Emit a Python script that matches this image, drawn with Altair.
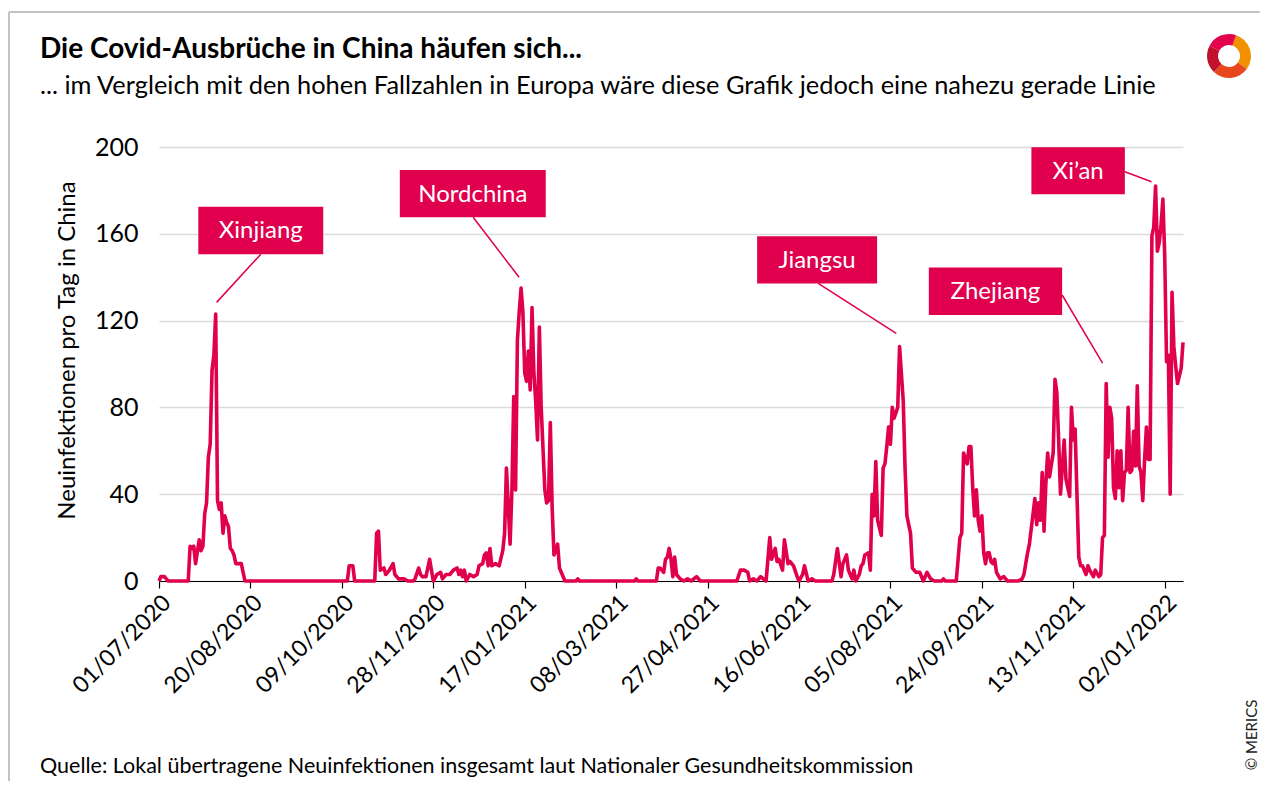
import altair as alt
import pandas as pd

# ---------------- data ----------------
START = "2020-07-01"
DAYS_SINCE_START = [
    0, 1, 2, 3, 4, 5, 16, 17, 18, 19, 20, 22, 23, 24, 25, 26, 27, 28, 29, 30, 31, 32, 33, 34, 35, 36, 37, 38, 39, 40,
    41, 42, 45, 47, 103, 104, 106, 107, 118, 119, 120, 121, 123, 124, 126, 128, 129, 131, 134, 136, 139, 140, 142, 143,
    144, 146, 148, 150, 152, 154, 155, 157, 159, 161, 163, 164, 165, 166, 167, 168, 170, 172, 174, 175, 177, 178,
    179, 180, 181, 182, 184, 186, 188, 189, 190, 192, 193, 194, 195, 196, 197, 198, 199, 200, 201, 202, 203, 204,
    205, 206, 207, 208, 209, 211, 212, 213, 214, 215, 216, 218, 219, 222, 228, 229, 230, 260, 261, 262, 272, 273, 274, 276,
    277, 278, 279, 280, 281, 282, 283, 285, 287, 289, 291, 294, 296, 316, 318, 320, 322, 323, 325, 327, 329, 332,
    334, 335, 337, 338, 339, 341, 342, 344, 345, 347, 349, 350, 352, 353, 355, 357, 359, 368, 369, 371, 373, 374,
    376, 377, 379, 380, 381, 383, 384, 385, 386, 388, 389, 390, 391, 392, 393, 395, 396, 397, 398, 399, 400, 401,
    402, 404, 405, 407, 408, 409, 411, 412, 414, 416, 418, 420, 422, 424, 428, 429, 430, 436, 438, 439, 440, 442, 443,
    444, 445, 446, 447, 448, 449, 450, 451, 452, 453, 454, 455, 456, 457, 458, 460, 462, 464, 470, 472, 473, 475,
    476, 478, 479, 480, 481, 482, 483, 484, 485, 486, 487, 489, 490, 491, 492, 493, 495, 496, 498, 499, 500, 501,
    503, 504, 505, 507, 508, 509, 511, 512, 514, 515, 516, 517, 518, 519, 520, 521, 522, 523, 524, 525, 526, 527,
    528, 529, 530, 531, 532, 533, 534, 535, 536, 537, 538, 539, 540, 541, 542, 543, 544, 545, 546, 547, 548, 549,
    550, 551, 552, 553, 554, 555, 556, 557, 559, 560,
]
NEW_CASES = [
    0, 2, 2, 2, 1, 0, 0, 16, 15, 16, 8, 19, 14, 16, 31, 36, 57, 63, 97, 104, 123, 37, 33, 36, 22, 30, 27, 25, 15, 14,
    12, 8, 8, 0, 0, 7, 7, 0, 0, 22, 23, 5, 6, 3, 5, 8, 3, 1, 1, 0, 0, 1, 6, 3,
    2, 2, 10, 0, 3, 4, 1, 3, 3, 5, 6, 3, 5, 2, 5, 0, 3, 2, 3, 7, 8, 12,
    13, 7, 15, 7, 8, 7, 14, 22, 52, 17, 42, 85, 42, 111, 124, 135, 124, 96, 92, 106, 88, 126,
    96, 83, 65, 117, 80, 42, 36, 37, 73, 34, 12, 17, 6, 0, 0, 1, 0, 0, 1, 0, 0, 6, 6, 4,
    10, 11, 15, 10, 2, 11, 3, 1, 0, 1, 0, 2, 0, 0, 5, 5, 4, 0, 1, 0, 2, 0,
    20, 10, 15, 9, 10, 5, 19, 8, 9, 7, 2, 0, 3, 7, 0, 1, 0, 0, 3, 15, 2, 8,
    12, 5, 1, 5, 0, 3, 7, 8, 12, 13, 5, 40, 30, 55, 28, 21, 52, 54, 62, 71, 63, 80,
    75, 80, 108, 83, 52, 30, 22, 6, 4, 4, 0, 4, 1, 0, 0, 1, 0, 0, 20, 22, 59, 54, 62,
    62, 43, 30, 42, 28, 23, 30, 13, 8, 13, 13, 9, 8, 10, 4, 1, 2, 0, 0, 1, 3, 13,
    17, 31, 38, 26, 36, 28, 50, 23, 45, 59, 48, 59, 93, 87, 65, 40, 65, 47, 39, 80, 65, 70,
    11, 7, 7, 3, 7, 5, 2, 5, 2, 3, 20, 21, 91, 57, 80, 75, 43, 38, 60, 43, 60, 37,
    50, 51, 80, 50, 51, 69, 53, 90, 53, 50, 37, 56, 71, 56, 56, 159, 163, 182, 152, 156, 164, 176,
    150, 101, 104, 40, 133, 108, 99, 91, 98, 110,
]

TICK_DATES = [(2020, 7, 1), (2020, 8, 20), (2020, 10, 9), (2020, 11, 28), (2021, 1, 17), (2021, 3, 8),
              (2021, 4, 27), (2021, 6, 16), (2021, 8, 5), (2021, 9, 24), (2021, 11, 13), (2022, 1, 2)]
Y_TICKS = [0, 40, 80, 120, 160, 200]

# annotation labels, boxes (day offsets / case values) and leader lines
ANN_LABELS = ["Xinjiang", "Nordchina", "Jiangsu", "Zhejiang", "Xi’an"]
ANN_BOX_DAY = [(21.5, 89.8), (131.7, 211.5), (327.1, 392.7), (421.0, 493.9), (477.1, 528.2)]
ANN_BOX_VAL = [(150.6, 172.5), (167.6, 189.4), (137.1, 158.9), (122.6, 144.5), (178.2, 199.9)]
ANN_LINE_FROM = [(55.7, 150.6), (171.8, 167.6), (360.5, 137.1), (493.9, 131.8), (528.2, 188.6)]
ANN_LINE_TO = [(31.5, 128.4), (196.9, 140.0), (403.2, 114.1), (516.0, 100.4), (542.8, 184.0)]

TITLE = "Die Covid-Ausbrüche in China häufen sich..."
SUBTITLE = "... im Vergleich mit den hohen Fallzahlen in Europa wäre diese Grafik jedoch eine nahezu gerade Linie"
SOURCE = "Quelle: Lokal übertragene Neuinfektionen insgesamt laut Nationaler Gesundheitskommission"
Y_TITLE = "Neuinfektionen pro Tag in China"
CREDIT = "© MERICS"

# ---------------- helpers ----------------
RED = "#e0004d"
FONT = "Lato"
t0 = pd.Timestamp(START)


def iso(day):
    return (t0 + pd.to_timedelta(day, unit="D")).strftime("%Y-%m-%dT%H:%M:%S")


df = pd.DataFrame({"date": [iso(d) for d in DAYS_SINCE_START], "cases": NEW_CASES})

ann = pd.DataFrame({
    "label": ANN_LABELS,
    "d1": [iso(a) for a, b in ANN_BOX_DAY],
    "d2": [iso(b) for a, b in ANN_BOX_DAY],
    "dc": [iso((a + b) / 2) for a, b in ANN_BOX_DAY],
    "v1": [a for a, b in ANN_BOX_VAL],
    "v2": [b for a, b in ANN_BOX_VAL],
    "vc": [(a + b) / 2 for a, b in ANN_BOX_VAL],
    "ld1": [iso(a) for a, b in ANN_LINE_FROM],
    "lv1": [b for a, b in ANN_LINE_FROM],
    "ld2": [iso(a) for a, b in ANN_LINE_TO],
    "lv2": [b for a, b in ANN_LINE_TO],
})

x_scale = alt.Scale(domain=[alt.DateTime(year=2020, month=7, date=1), alt.DateTime(year=2022, month=1, date=12)])
y_scale = alt.Scale(domain=[0, 200], nice=False)

x_axis = alt.Axis(
    values=[alt.DateTime(year=y, month=m, date=d) for y, m, d in TICK_DATES],
    format="%d/%m/%Y", labelAngle=-45, labelFontSize=23, labelFont=FONT, labelColor="black",
    labelOverlap=False, labelFlush=False,
    domainColor="black", domainWidth=1.2, tickColor="black", tickSize=7, tickWidth=1.2,
    grid=False, title=None, labelPadding=3,
)
y_axis = alt.Axis(
    values=Y_TICKS, grid=True, gridColor="#dcdcdc", gridWidth=1.5, domain=False, ticks=False,
    labelPadding=21, labelFontSize=25, labelFont=FONT, labelColor="black",
    title=Y_TITLE, titleFontSize=24, titleFont=FONT, titleFontWeight="normal", titleColor="black",
    titleAngle=270, titleX=-80, titleY=203,
)

line = alt.Chart(df).mark_line(color=RED, strokeWidth=3.6, strokeJoin="round").encode(
    x=alt.X("date:T", scale=x_scale, axis=x_axis),
    y=alt.Y("cases:Q", scale=y_scale, axis=y_axis),
)

leaders = alt.Chart(ann).mark_rule(color=RED, strokeWidth=1.5).encode(
    x="ld1:T", x2="ld2:T", y="lv1:Q", y2="lv2:Q"
)
boxes = alt.Chart(ann).mark_rect(color=RED).encode(
    x="d1:T", x2="d2:T", y="v1:Q", y2="v2:Q"
)
labels = alt.Chart(ann).mark_text(color="white", fontSize=24, font=FONT, baseline="middle", align="center", dy=1).encode(
    x="dc:T", y="vc:Q", text="label:N"
)


def txt(text, x, y, size, weight="normal", angle=0, align="left", color="black"):
    return alt.Chart(pd.DataFrame({"t": [text]})).mark_text(
        fontSize=size, font=FONT, fontWeight=weight, align=align, baseline="alphabetic", angle=angle, color=color
    ).encode(x=alt.value(x), y=alt.value(y), text="t:N")


title = txt(TITLE, -119, -89, 28, weight="bold")
subtitle = txt(SUBTITLE, -119, -53, 25.4)
source = txt(SOURCE, -119, 626, 21.5)
credit = alt.Chart(pd.DataFrame({"t": [CREDIT]})).mark_text(
    fontSize=15, font=FONT, align="center", baseline="middle", angle=270, color="#222222"
).encode(x=alt.value(1093), y=alt.value(588), text="t:N")

frame_top = alt.Chart(pd.DataFrame({"a": [0]})).mark_rule(color="#c3c3c3", strokeWidth=2).encode(
    x=alt.value(-150), x2=alt.value(1120), y=alt.value(-135)
)
frame_left = alt.Chart(pd.DataFrame({"a": [0]})).mark_rule(color="#c3c3c3", strokeWidth=2).encode(
    x=alt.value(-150), y=alt.value(-135), y2=alt.value(650)
)

LOGO_SEGMENTS = [(0.3, 2.2, "#f29100"), (2.2, 3.9, "#e8471e"), (3.9, 5.2, "#c0122c"), (5.2, 6.6, "#e3004f")]
logo = [
    alt.Chart(pd.DataFrame({"a": [0]})).mark_arc(theta=a, theta2=b, radius=22, radius2=11, color=c).encode(
        x=alt.value(1070), y=alt.value(-91)
    )
    for a, b, c in LOGO_SEGMENTS
]

chart = alt.layer(
    frame_top, frame_left, line, leaders, boxes, labels, title, subtitle, source, credit, *logo
).properties(
    width=1024, height=434,
    padding={"left": 151, "top": 139, "right": 77, "bottom": 200},
    autosize=alt.AutoSizeParams(type="none"),
    background="white",
).configure_view(stroke=None)

chart.save("out.html", embed_options={"renderer": "svg", "actions": False})
